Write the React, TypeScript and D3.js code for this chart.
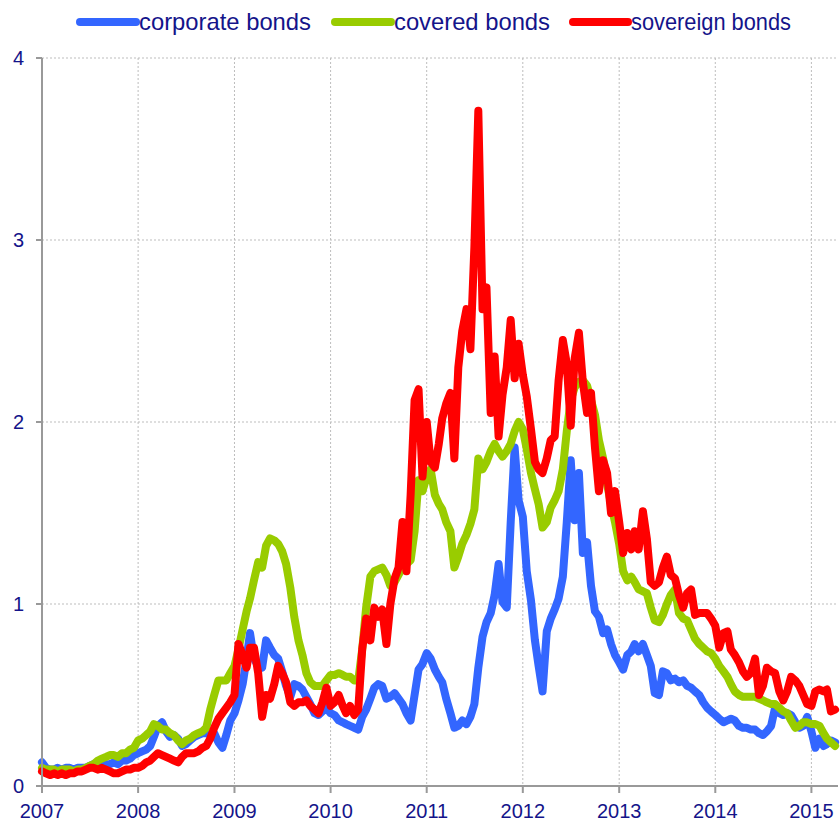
import React from "react";
import * as d3 from "d3";

// Semi-monthly observations starting Jan 2007 (1st and 16th of each month)
const corporate = [
  0.13, 0.10, 0.09, 0.09, 0.10, 0.09, 0.10, 0.10, 0.09, 0.10,
  0.10, 0.10, 0.11, 0.12, 0.13, 0.12, 0.12, 0.12, 0.13, 0.12,
  0.14, 0.14, 0.15, 0.17, 0.18, 0.19, 0.20, 0.22, 0.27, 0.33,
  0.35, 0.30, 0.27, 0.28, 0.26, 0.22, 0.23, 0.25, 0.27, 0.28,
  0.29, 0.29, 0.28, 0.29, 0.24, 0.21, 0.28, 0.36, 0.40, 0.47,
  0.56, 0.70, 0.84, 0.70, 0.66, 0.65, 0.80, 0.76, 0.72, 0.70,
  0.63, 0.55, 0.49, 0.56, 0.55, 0.53, 0.49, 0.45, 0.40, 0.39,
  0.41, 0.43, 0.40, 0.39, 0.36, 0.35, 0.34, 0.33, 0.32, 0.31,
  0.38, 0.42, 0.48, 0.54, 0.56, 0.55, 0.48, 0.49, 0.51, 0.48,
  0.45, 0.40, 0.36, 0.50, 0.64, 0.67, 0.73, 0.70, 0.64, 0.60,
  0.57, 0.48, 0.40, 0.32, 0.33, 0.36, 0.34, 0.38, 0.45, 0.65,
  0.82, 0.90, 0.95, 1.05, 1.22, 1.01, 0.98, 1.45, 1.86, 1.57,
  1.48, 1.18, 1.02, 0.80, 0.66, 0.52, 0.85, 0.92, 0.97, 1.03,
  1.15, 1.45, 1.79, 1.46, 1.72, 1.28, 1.34, 1.10, 0.96, 0.93,
  0.84, 0.86, 0.78, 0.72, 0.68, 0.64, 0.72, 0.74, 0.78, 0.74,
  0.78, 0.72, 0.66, 0.51, 0.50, 0.63, 0.62, 0.58, 0.59, 0.57,
  0.58, 0.55, 0.54, 0.52, 0.50, 0.46, 0.43, 0.41, 0.39, 0.37,
  0.35, 0.36, 0.37, 0.36, 0.33, 0.32, 0.32, 0.31, 0.31, 0.29,
  0.28, 0.30, 0.33, 0.43, 0.40, 0.39, 0.40, 0.39, 0.35, 0.32,
  0.33, 0.38, 0.30, 0.21, 0.26, 0.22, 0.23, 0.25, 0.24,
];

const covered = [
  0.10, 0.09, 0.09, 0.09, 0.08, 0.09, 0.09, 0.09, 0.08, 0.09,
  0.09, 0.10, 0.11, 0.12, 0.14, 0.15, 0.16, 0.17, 0.17, 0.16,
  0.18, 0.18, 0.20, 0.21, 0.25, 0.26, 0.28, 0.30, 0.34, 0.33,
  0.31, 0.31, 0.29, 0.28, 0.25, 0.23, 0.25, 0.26, 0.28, 0.29,
  0.30, 0.32, 0.42, 0.50, 0.58, 0.58, 0.58, 0.62, 0.66, 0.75,
  0.86, 0.96, 1.03, 1.13, 1.23, 1.20, 1.32, 1.36, 1.35, 1.33,
  1.29, 1.22, 1.09, 0.93, 0.80, 0.72, 0.62, 0.57, 0.55, 0.55,
  0.55, 0.58, 0.61, 0.61, 0.62, 0.61, 0.60, 0.60, 0.58, 0.58,
  0.75, 0.98, 1.15, 1.18, 1.19, 1.20, 1.16, 1.10, 1.12, 1.16,
  1.20, 1.22, 1.24, 1.40, 1.68, 1.62, 1.70, 1.74, 1.60, 1.55,
  1.52, 1.45, 1.40, 1.20, 1.26, 1.33, 1.38, 1.44, 1.52, 1.80,
  1.74, 1.78, 1.84, 1.88, 1.84, 1.81, 1.84, 1.88, 1.95, 2.00,
  1.96, 1.85, 1.72, 1.63, 1.55, 1.42, 1.45, 1.53, 1.57, 1.62,
  1.74, 1.95, 2.12, 2.19, 2.22, 2.23, 2.20, 2.12, 2.04, 1.90,
  1.80, 1.66, 1.55, 1.45, 1.33, 1.18, 1.13, 1.15, 1.12, 1.08,
  1.07, 1.06, 0.98, 0.91, 0.90, 0.94, 1.00, 1.05, 1.08, 0.95,
  0.92, 0.91, 0.86, 0.81, 0.78, 0.76, 0.74, 0.73, 0.70, 0.66,
  0.63, 0.60, 0.56, 0.52, 0.50, 0.49, 0.49, 0.49, 0.49, 0.48,
  0.47, 0.46, 0.45, 0.45, 0.43, 0.41, 0.40, 0.36, 0.32, 0.33,
  0.35, 0.35, 0.34, 0.34, 0.33, 0.29, 0.26, 0.24, 0.22,
];

const sovereign = [
  0.08, 0.07, 0.06, 0.07, 0.06, 0.07, 0.06, 0.07, 0.07, 0.08,
  0.08, 0.09, 0.10, 0.10, 0.09, 0.10, 0.09, 0.08, 0.07, 0.07,
  0.08, 0.09, 0.09, 0.10, 0.10, 0.11, 0.13, 0.14, 0.16, 0.18,
  0.17, 0.16, 0.15, 0.14, 0.13, 0.16, 0.18, 0.18, 0.18, 0.19,
  0.21, 0.22, 0.26, 0.32, 0.37, 0.40, 0.43, 0.46, 0.50, 0.78,
  0.72, 0.65, 0.76, 0.76, 0.62, 0.38, 0.50, 0.48, 0.56, 0.66,
  0.62, 0.57, 0.46, 0.44, 0.46, 0.46, 0.47, 0.44, 0.42, 0.40,
  0.46, 0.54, 0.44, 0.46, 0.50, 0.44, 0.40, 0.44, 0.39, 0.42,
  0.75, 0.92, 0.80, 0.98, 0.93, 0.97, 0.78, 1.00, 1.14, 1.20,
  1.45, 1.18, 1.60, 2.12, 2.18, 1.70, 2.00, 1.78, 1.75, 1.88,
  2.02, 2.10, 2.16, 1.80, 2.30, 2.50, 2.62, 2.40, 2.96, 3.71,
  2.62, 2.74, 2.05, 2.36, 1.92, 2.15, 2.30, 2.56, 2.24, 2.43,
  2.26, 2.14, 1.96, 1.78, 1.74, 1.72, 1.80, 1.90, 1.92, 2.23,
  2.45, 2.32, 1.98, 2.35, 2.49, 2.22, 2.05, 2.16, 1.86, 1.62,
  1.79, 1.72, 1.50, 1.62, 1.45, 1.28, 1.39, 1.30, 1.40, 1.30,
  1.51, 1.36, 1.12, 1.10, 1.12, 1.20, 1.26, 1.16, 1.14, 1.05,
  0.98, 1.06, 1.08, 0.94, 0.95, 0.95, 0.95, 0.92, 0.88, 0.76,
  0.84, 0.85, 0.75, 0.72, 0.68, 0.63, 0.60, 0.62, 0.70, 0.50,
  0.55, 0.65, 0.63, 0.62, 0.52, 0.47, 0.52, 0.60, 0.58, 0.55,
  0.50, 0.45, 0.44, 0.52, 0.53, 0.52, 0.53, 0.41, 0.42,
];

const seriesNames = ["corporate bonds", "covered bonds", "sovereign bonds"];
const seriesColors = ["#3366FF", "#99CC00", "#FF0000"];
const yTicks = [0, 1, 2, 3, 4];
const xTickYears = [2007, 2008, 2009, 2010, 2011, 2012, 2013, 2014, 2015];

const W = 840;
const H = 822;
const M = { left: 42, right: 838, top: 58, bottom: 786 };
const TEXT = "#14148A";
const FONT = "'Liberation Sans', Arial, sans-serif";

const dates = corporate.map(
  (_, i) => new Date(2007, Math.floor(i / 2), i % 2 === 0 ? 1 : 16)
);

export default function App() {
  const x = d3
    .scaleTime()
    .domain([new Date(2007, 0, 1), new Date(2015, 3, 12)])
    .range([M.left, M.right]);
  const y = d3.scaleLinear().domain([0, 4]).range([M.bottom, M.top]);

  const line = d3
    .line<number>()
    .x((_, i) => x(dates[i]))
    .y((d) => y(d));

  const all = [corporate, covered, sovereign];
  const legendX = [
    { lx0: 80, lx1: 136, tx: 139, tl: 172 },
    { lx0: 335, lx1: 391, tx: 394, tl: 156 },
    { lx0: 573, lx1: 628, tx: 631, tl: 160 },
  ];

  return (
    <svg
      width={W}
      height={H}
      style={{ position: "absolute", left: 0, top: 0, background: "#fff" }}
      fontFamily={FONT}
    >
      <rect x={0} y={0} width={W} height={H} fill="#fff" />
      {/* grid */}
      {yTicks
        .filter((t) => t > 0)
        .map((t) => (
          <line
            key={"gy" + t}
            x1={M.left}
            x2={M.right}
            y1={y(t)}
            y2={y(t)}
            stroke="#BDBDBD"
            strokeWidth={1}
            strokeDasharray="2,2"
          />
        ))}
      {xTickYears
        .filter((yr) => yr > 2007)
        .map((yr) => (
          <line
            key={"gx" + yr}
            x1={x(new Date(yr, 0, 1))}
            x2={x(new Date(yr, 0, 1))}
            y1={M.top}
            y2={M.bottom}
            stroke="#BDBDBD"
            strokeWidth={1}
            strokeDasharray="2,2"
          />
        ))}
      {/* series */}
      {all.map((s, k) => (
        <path
          key={"s" + k}
          d={line(s) || ""}
          fill="none"
          stroke={seriesColors[k]}
          strokeWidth={8}
          strokeLinejoin="round"
          strokeLinecap="round"
        />
      ))}
      {/* axes */}
      <line x1={M.left} x2={M.left} y1={M.top} y2={M.bottom} stroke="#999" strokeWidth={2} />
      <line x1={M.left - 6} x2={M.right} y1={M.bottom} y2={M.bottom} stroke="#999" strokeWidth={2} />
      {yTicks.map((t) => (
        <g key={"yt" + t}>
          <line x1={M.left - 6} x2={M.left} y1={y(t)} y2={y(t)} stroke="#999" strokeWidth={2} />
          <text
            x={24}
            y={y(t)}
            dy="0.35em"
            textAnchor="end"
            fontSize={20}
            fill={TEXT}
          >
            {t}
          </text>
        </g>
      ))}
      {xTickYears.map((yr) => (
        <g key={"xt" + yr}>
          <line
            x1={x(new Date(yr, 0, 1))}
            x2={x(new Date(yr, 0, 1))}
            y1={M.bottom}
            y2={M.bottom + 7}
            stroke="#999"
            strokeWidth={2}
          />
          <text
            x={x(new Date(yr, 0, 1))}
            y={818}
            textAnchor="middle"
            fontSize={20}
            fill={TEXT}
          >
            {yr}
          </text>
        </g>
      ))}
      {/* legend */}
      {seriesNames.map((n, k) => (
        <g key={"lg" + k}>
          <line
            x1={legendX[k].lx0}
            x2={legendX[k].lx1}
            y1={22}
            y2={22}
            stroke={seriesColors[k]}
            strokeWidth={8}
            strokeLinecap="round"
          />
          <text
            x={legendX[k].tx}
            y={30}
            fontSize={24}
            fill={TEXT}
            textLength={legendX[k].tl}
            lengthAdjust="spacingAndGlyphs"
          >
            {n}
          </text>
        </g>
      ))}
    </svg>
  );
}
